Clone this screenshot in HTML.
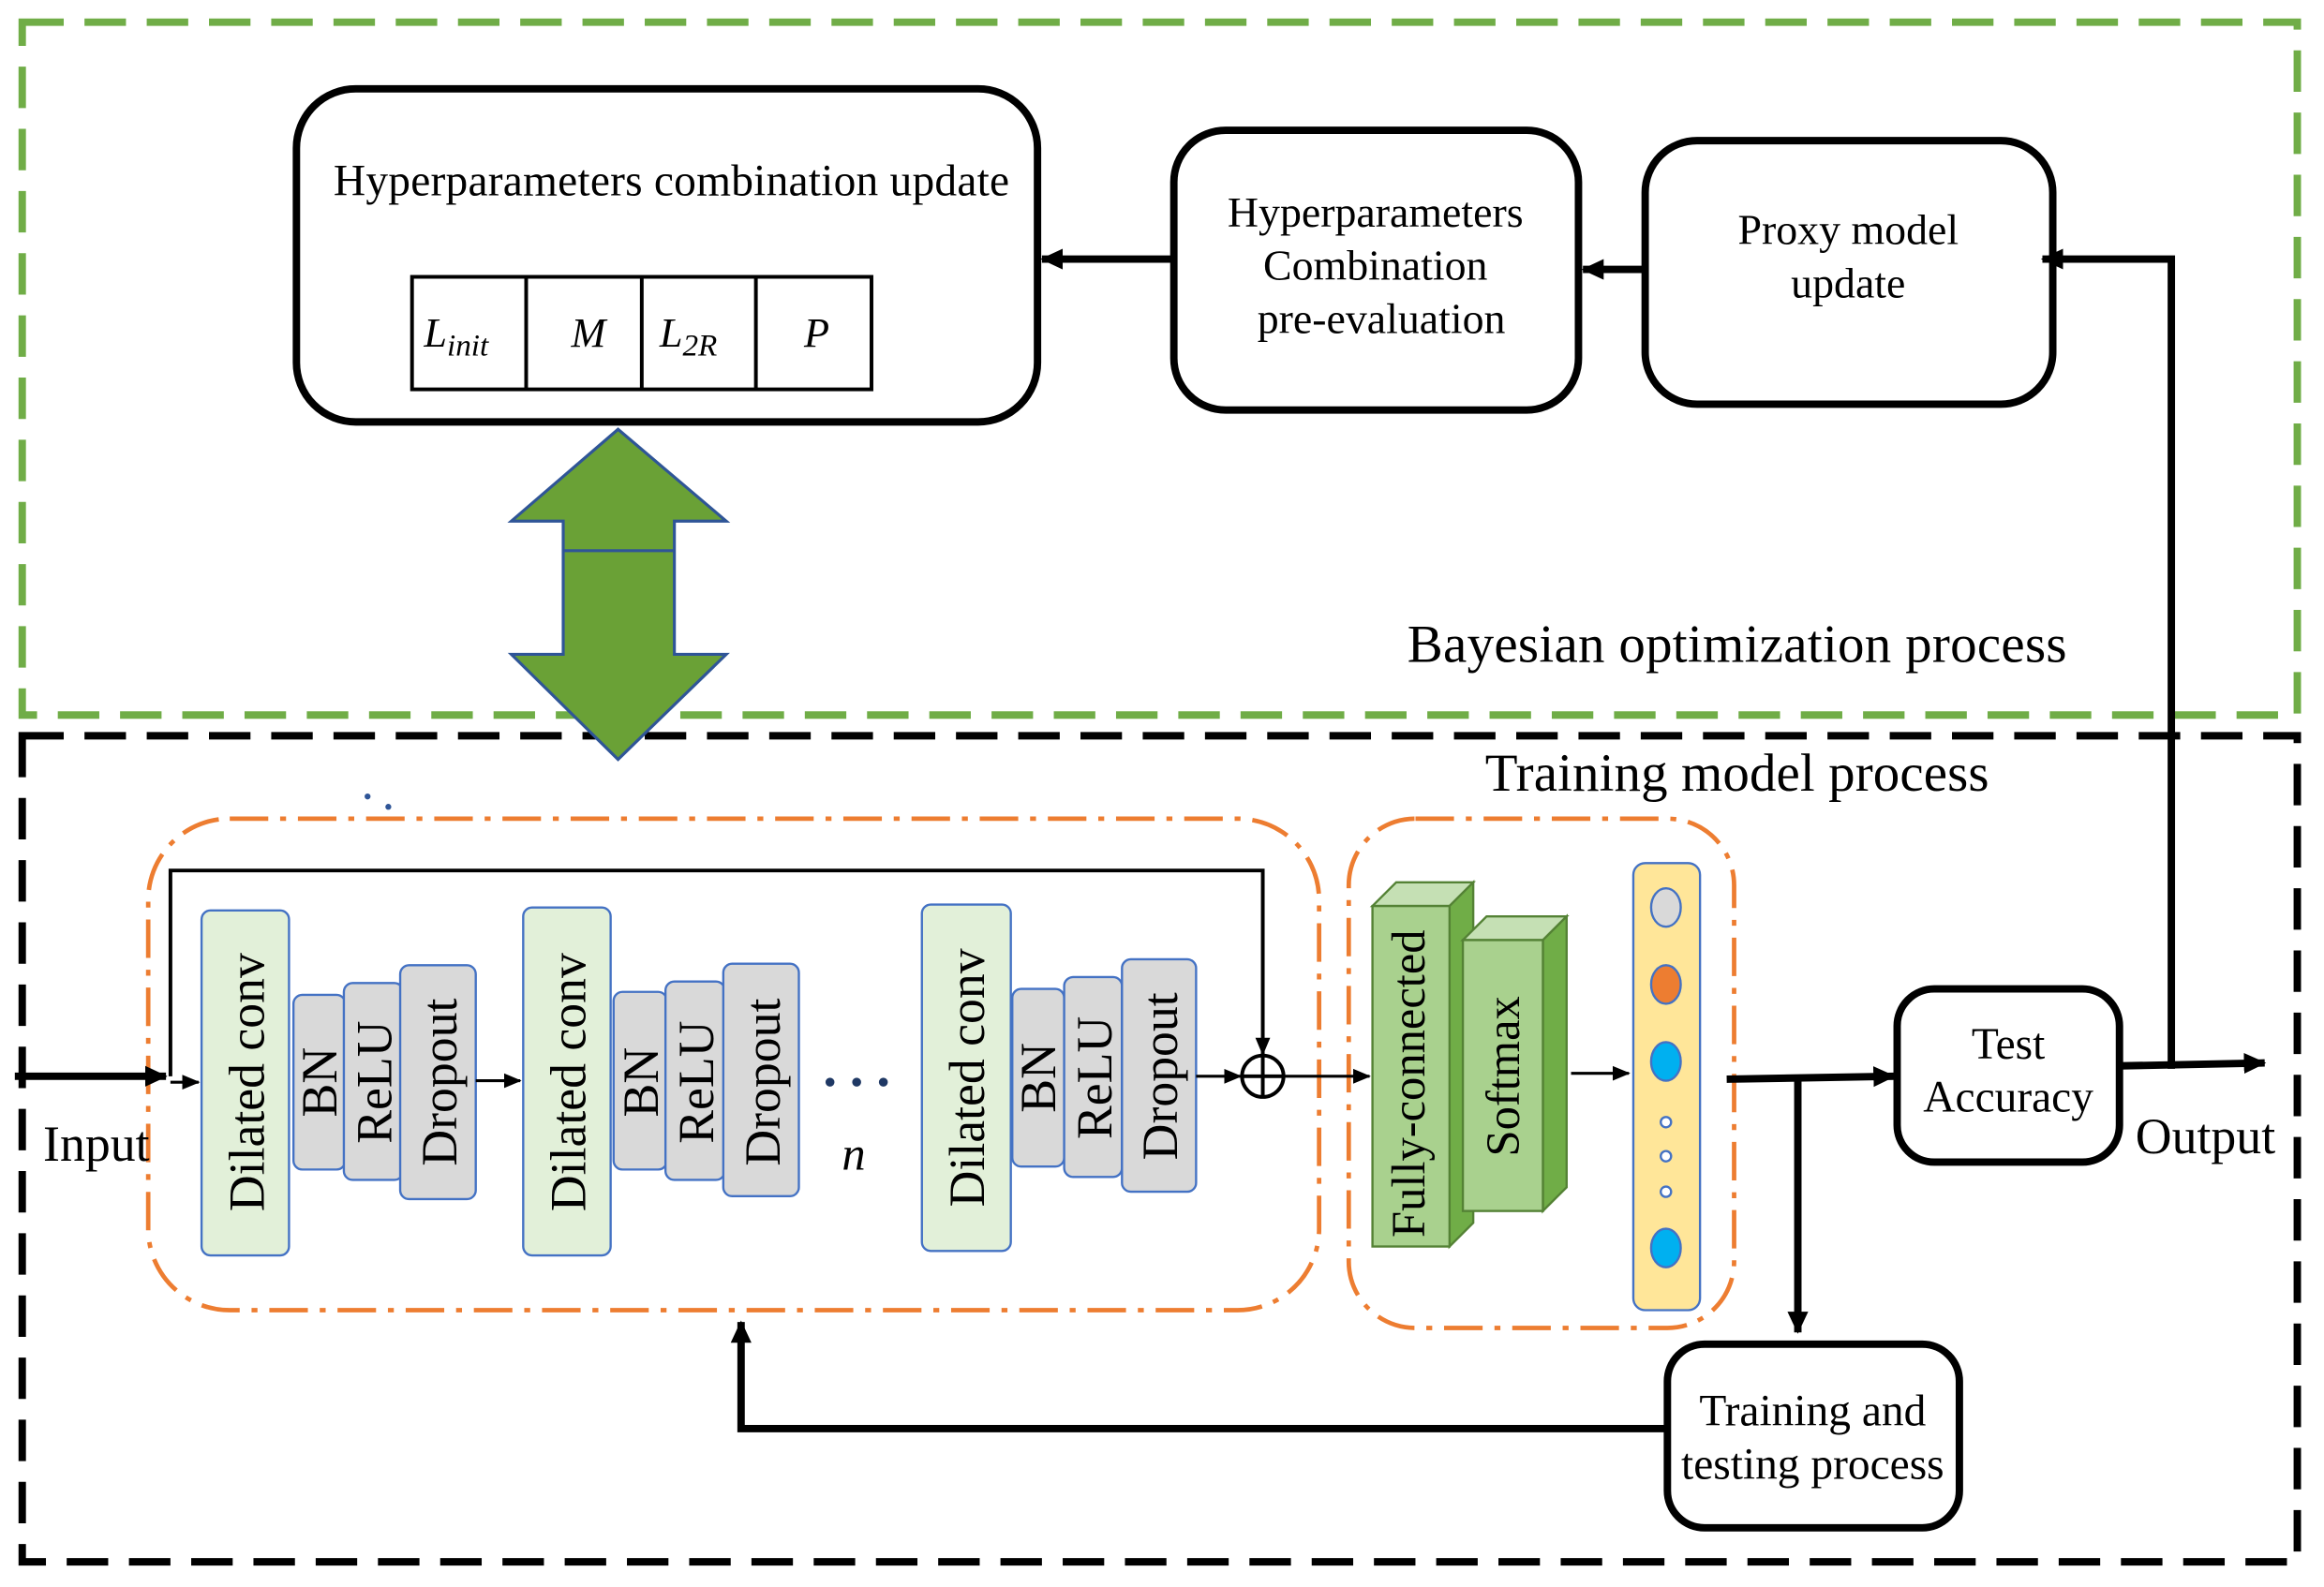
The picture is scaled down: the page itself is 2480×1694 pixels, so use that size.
<!DOCTYPE html>
<html><head><meta charset="utf-8"><style>
html,body{margin:0;padding:0;background:#fff}
svg{display:block}
text{font-family:"Liberation Serif",serif;fill:#000}
</style></head><body>
<svg width="2480" height="1694" viewBox="0 0 1568 1072" preserveAspectRatio="none" xmlns="http://www.w3.org/2000/svg">
<defs>
<marker id="ah" markerWidth="16" markerHeight="16" refX="14" refY="8" orient="auto" markerUnits="userSpaceOnUse"><path d="M0,1 L15,8 L0,15 z" fill="#000"/></marker>
<marker id="sh" markerWidth="12" markerHeight="12" refX="11" refY="6" orient="auto" markerUnits="userSpaceOnUse"><path d="M0,1 L12,6 L0,11 z" fill="#000"/></marker>
</defs>
<rect x="15" y="15" width="1535" height="468" fill="none" stroke="#70ad47" stroke-width="5" stroke-dasharray="28,14"/>
<rect x="15" y="497" width="1535" height="558" fill="none" stroke="#000" stroke-width="5" stroke-dasharray="28,14"/>

<rect x="200" y="60" width="500" height="225" rx="40" fill="#fff" stroke="#000" stroke-width="5"/>
<text x="453" y="132" font-size="30" text-anchor="middle" textLength="456">Hyperparameters combination update</text>
<g fill="none" stroke="#000" stroke-width="2.5">
<rect x="278" y="187" width="310" height="76"/>
<line x1="355" y1="187" x2="355" y2="263"/><line x1="433" y1="187" x2="433" y2="263"/><line x1="510" y1="187" x2="510" y2="263"/>
</g>
<text x="286" y="234" font-size="28" font-style="italic">L<tspan font-size="21" dy="6">init</tspan></text>
<text x="397" y="234" font-size="28" font-style="italic" text-anchor="middle">M</text>
<text x="445" y="234" font-size="28" font-style="italic">L<tspan font-size="21" dy="6">2R</tspan></text>
<text x="551" y="234" font-size="28" font-style="italic" text-anchor="middle">P</text>

<rect x="792" y="88" width="273" height="189" rx="35" fill="#fff" stroke="#000" stroke-width="5"/>
<text x="928" y="153" font-size="29" text-anchor="middle">Hyperparameters</text>
<text x="928" y="189" font-size="29" text-anchor="middle">Combination</text>
<text x="932" y="225" font-size="29" text-anchor="middle">pre-evaluation</text>
<rect x="1110" y="95" width="275" height="178" rx="35" fill="#fff" stroke="#000" stroke-width="5"/>
<text x="1247" y="165" font-size="29" text-anchor="middle">Proxy model</text>
<text x="1247" y="201" font-size="29" text-anchor="middle">update</text>

<line x1="792" y1="175" x2="703" y2="175" stroke="#000" stroke-width="5" marker-end="url(#ah)"/>
<line x1="1110" y1="182" x2="1068" y2="182" stroke="#000" stroke-width="5" marker-end="url(#ah)"/>
<polyline points="1465,722 1465,175 1378,175" fill="none" stroke="#000" stroke-width="5" marker-end="url(#ah)"/>

<polygon points="417,290 490,352 455,352 455,442 490,442 417,513 345,442 380,442 380,352 345,352" fill="#6aa136" stroke="#2f5597" stroke-width="2"/>
<line x1="380" y1="372" x2="455" y2="372" stroke="#2f5597" stroke-width="2"/>

<text x="1172" y="447" font-size="36" text-anchor="middle" textLength="445">Bayesian optimization process</text>
<text x="1172" y="534" font-size="36" text-anchor="middle" textLength="340">Training model process</text>
<circle cx="248" cy="538" r="2" fill="#2f5597"/><circle cx="262" cy="545" r="2" fill="#2f5597"/>

<rect x="100" y="553" width="790" height="332" rx="55" fill="none" stroke="#ed7d31" stroke-width="3" stroke-dasharray="26,8,4,8"/>
<rect x="910" y="553" width="260" height="344" rx="45" fill="none" stroke="#ed7d31" stroke-width="3" stroke-dasharray="26,8,4,8"/>

<line x1="10" y1="727" x2="112" y2="727" stroke="#000" stroke-width="5" marker-end="url(#ah)"/>
<text x="65" y="784" font-size="34" text-anchor="middle">Input</text>
<polyline points="115,727 115,588 852,588 852,712" fill="none" stroke="#000" stroke-width="2.5" marker-end="url(#sh)"/>
<line x1="115" y1="731" x2="134" y2="731" stroke="#000" stroke-width="2" marker-end="url(#sh)"/>
<circle cx="852" cy="727" r="14" fill="#fff" stroke="#000" stroke-width="2.5"/>
<line x1="838" y1="727" x2="866" y2="727" stroke="#000" stroke-width="2.5"/><line x1="852" y1="713" x2="852" y2="741" stroke="#000" stroke-width="2.5"/>

<g stroke="#4472c4" stroke-width="1.5">
<rect x="136" y="615" width="59" height="233" rx="6" fill="#e2f0d9"/>
<rect x="198" y="672" width="35" height="118" rx="6" fill="#d9d9d9"/>
<rect x="232" y="664" width="40" height="133" rx="6" fill="#d9d9d9"/>
<rect x="270" y="652" width="51" height="158" rx="6" fill="#d9d9d9"/>
<rect x="353" y="613" width="59" height="235" rx="6" fill="#e2f0d9"/>
<rect x="414" y="670" width="36" height="120" rx="6" fill="#d9d9d9"/>
<rect x="449" y="663" width="40" height="134" rx="6" fill="#d9d9d9"/>
<rect x="488" y="651" width="51" height="157" rx="6" fill="#d9d9d9"/>
<rect x="622" y="611" width="60" height="234" rx="6" fill="#e2f0d9"/>
<rect x="683" y="668" width="35" height="120" rx="6" fill="#d9d9d9"/>
<rect x="718" y="660" width="39" height="135" rx="6" fill="#d9d9d9"/>
<rect x="757" y="648" width="50" height="157" rx="6" fill="#d9d9d9"/>
</g>
<g font-size="34">
<text transform="translate(178,731) rotate(-90)" text-anchor="middle">Dilated conv</text>
<text transform="translate(227,731) rotate(-90)" text-anchor="middle">BN</text>
<text transform="translate(264,731) rotate(-90)" text-anchor="middle">ReLU</text>
<text transform="translate(308,731) rotate(-90)" text-anchor="middle">Dropout</text>
<text transform="translate(395,731) rotate(-90)" text-anchor="middle">Dilated conv</text>
<text transform="translate(444,731) rotate(-90)" text-anchor="middle">BN</text>
<text transform="translate(481,731) rotate(-90)" text-anchor="middle">ReLU</text>
<text transform="translate(526,731) rotate(-90)" text-anchor="middle">Dropout</text>
<text transform="translate(664,728) rotate(-90)" text-anchor="middle">Dilated conv</text>
<text transform="translate(712,728) rotate(-90)" text-anchor="middle">BN</text>
<text transform="translate(750,728) rotate(-90)" text-anchor="middle">ReLU</text>
<text transform="translate(794,727) rotate(-90)" text-anchor="middle">Dropout</text>
</g>
<line x1="321" y1="730" x2="351" y2="730" stroke="#000" stroke-width="2" marker-end="url(#sh)"/>
<line x1="807" y1="727" x2="837" y2="727" stroke="#000" stroke-width="2" marker-end="url(#sh)"/>
<line x1="866" y1="727" x2="924" y2="727" stroke="#000" stroke-width="2" marker-end="url(#sh)"/>
<g fill="#1f3864"><circle cx="560" cy="731" r="3"/><circle cx="578" cy="731" r="3"/><circle cx="596" cy="731" r="3"/></g>
<text x="576" y="790" font-size="32" font-style="italic" text-anchor="middle">n</text>

<g stroke="#548235" stroke-width="1.5">
<polygon points="926,612 942,596 994,596 978,612" fill="#c5e0b4"/>
<polygon points="978,612 994,596 994,826 978,842" fill="#70ad47"/>
<rect x="926" y="612" width="52" height="230" fill="#a9d18e"/>
<polygon points="987,635 1003,619 1057,619 1041,635" fill="#c5e0b4"/>
<polygon points="1041,635 1057,619 1057,802 1041,818" fill="#70ad47"/>
<rect x="987" y="635" width="54" height="183" fill="#a9d18e"/>
</g>
<text transform="translate(961,732) rotate(-90)" font-size="32" text-anchor="middle">Fully-connected</text>
<text transform="translate(1025,727) rotate(-90)" font-size="32" text-anchor="middle">Softmax</text>
<line x1="1060" y1="725" x2="1099" y2="725" stroke="#000" stroke-width="2" marker-end="url(#sh)"/>

<rect x="1102" y="583" width="45" height="302" rx="8" fill="#ffe699" stroke="#4472c4" stroke-width="1.5"/>
<g stroke="#4472c4" stroke-width="1.5">
<ellipse cx="1124" cy="613" rx="10" ry="13" fill="#d9d9d9"/>
<ellipse cx="1124" cy="665" rx="10" ry="13" fill="#ed7d31"/>
<ellipse cx="1124" cy="717" rx="10" ry="13" fill="#00b0f0"/>
<circle cx="1124" cy="758" r="3.5" fill="#fff"/><circle cx="1124" cy="781" r="3.5" fill="#fff"/><circle cx="1124" cy="805" r="3.5" fill="#fff"/>
<ellipse cx="1124" cy="843" rx="10" ry="13" fill="#00b0f0"/>
</g>

<line x1="1165" y1="729" x2="1278" y2="727" stroke="#000" stroke-width="5" marker-end="url(#ah)"/>
<line x1="1213" y1="728" x2="1213" y2="900" stroke="#000" stroke-width="5" marker-end="url(#ah)"/>
<rect x="1280" y="668" width="150" height="117" rx="25" fill="#fff" stroke="#000" stroke-width="5"/>
<text x="1355" y="715" font-size="30" text-anchor="middle">Test</text>
<text x="1355" y="751" font-size="30" text-anchor="middle">Accuracy</text>
<line x1="1430" y1="720" x2="1528" y2="718" stroke="#000" stroke-width="5" marker-end="url(#ah)"/>
<text x="1488" y="779" font-size="34" text-anchor="middle">Output</text>

<rect x="1125" y="908" width="197" height="124" rx="25" fill="#fff" stroke="#000" stroke-width="5"/>
<text x="1223" y="963" font-size="30" text-anchor="middle">Training and</text>
<text x="1223" y="999" font-size="30" text-anchor="middle">testing process</text>
<polyline points="1125,965 500,965 500,893" fill="none" stroke="#000" stroke-width="5" marker-end="url(#ah)"/>
</svg>
</body></html>
